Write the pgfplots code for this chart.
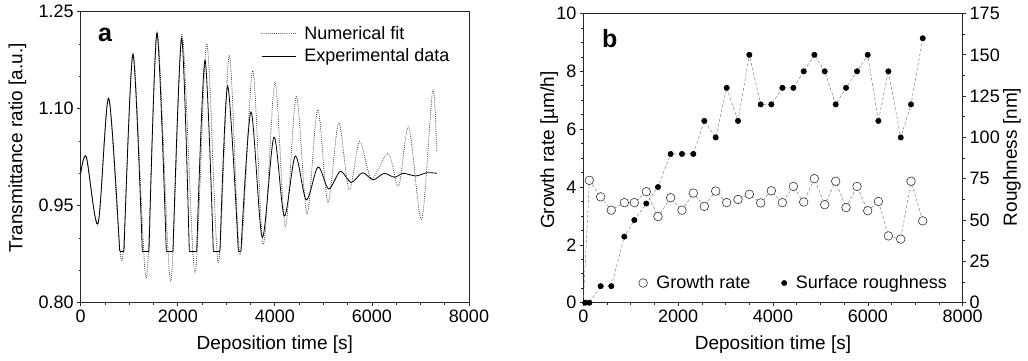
\documentclass[border=0pt]{standalone}
\usepackage{fontspec}
\setmainfont{Liberation Sans}
\usepackage{pgfplots}
\pgfplotsset{compat=1.18}
\begin{document}
\begin{tikzpicture}
\useasboundingbox (0pt,0pt) rectangle (1028pt,361pt);
\pgfplotsset{
  every axis/.append style={
    scale only axis,
    tick label style={font=\fontsize{18}{20}\selectfont},
    label style={font=\fontsize{19}{22}\selectfont},
    /pgf/number format/assume math mode=true,
    /pgf/number format/1000 sep={},
    tick align=outside,
    major tick length=3.5pt,
    minor tick length=2pt,
    axis line style={line width=0.9pt, black!85},
    every tick/.style={line width=0.7pt, black!85},
  },
  fitstyle/.style={line width=1pt, line cap=round, dash pattern=on 0pt off 2.1pt, black!85},
  expstyle/.style={line width=0.8pt, black},
}
% ---------------- panel a ----------------
\begin{axis}[
  at={(80.7pt,58.3pt)}, anchor=south west,
  width=388.3pt, height=291pt,
  xmin=0, xmax=8000, ymin=0.80, ymax=1.25,
  xtick={0,2000,...,8000}, minor x tick num=3,
  ytick={0.80,0.95,1.10,1.25}, minor y tick num=2,
  yticklabel style={/pgf/number format/.cd, fixed, fixed zerofill, precision=2},
  xtick pos=left, ytick pos=left,
  xlabel={Deposition time [s]}, ylabel={Transmittance ratio [a.u.]},
  xlabel style={at={(axis description cs:0.5,-0.145)}, anchor=center},
  ylabel style={at={(axis description cs:-0.163,0.532)}, anchor=center},
  legend style={draw=none, fill=none, at={(axis description cs:0.457,0.965)}, anchor=north west,
    font=\fontsize{18}{20}\selectfont, row sep=4pt,
    /tikz/every odd column/.append style={column sep=6pt}},
  legend cell align=left,
  legend image code/.code={\draw[#1] (0pt,0pt) -- (34pt,0pt);},
]
\addplot[fitstyle, smooth] coordinates {
(0,1.000)(118,1.026)(357,0.921)(578,1.117)(851,0.865)(1080,1.186)(1352,0.838)
(1575,1.219)(1853,0.833)(2085,1.215)(2355,0.846)(2596,1.201)(2835,0.862)
(3061,1.183)(3285,0.874)(3543,1.159)(3762,0.890)(4002,1.141)(4215,0.917)
(4441,1.119)(4662,0.937)(4882,1.099)(5094,0.955)(5315,1.078)(5530,0.974)
(5745,1.049)(5990,0.992)(6337,1.031)(6550,0.980)(6760,1.072)(7024,0.929)
(7251,1.128)(7334,1.035)};
\addlegendentry{Numerical fit}
\addlegendimage{expstyle}
\addlegendentry{Experimental data}
\addplot[expstyle, smooth, forget plot] coordinates {(0,1.000)(116,1.025)(357,0.923)(577,1.116)(803,0.880)};
\addplot[expstyle, forget plot] coordinates {(803,0.880)(892,0.880)};
\addplot[expstyle, smooth, forget plot] coordinates {(892,0.880)(1077,1.184)(1269,0.880)};
\addplot[expstyle, forget plot] coordinates {(1269,0.880)(1407,0.880)};
\addplot[expstyle, smooth, forget plot] coordinates {(1407,0.880)(1572,1.217)(1763,0.880)};
\addplot[expstyle, forget plot] coordinates {(1763,0.880)(1901,0.880)};
\addplot[expstyle, smooth, forget plot] coordinates {(1901,0.880)(2080,1.209)(2237,0.880)};
\addplot[expstyle, forget plot] coordinates {(2237,0.880)(2390,0.880)};
\addplot[expstyle, smooth, forget plot] coordinates {(2390,0.880)(2561,1.175)(2732,0.880)};
\addplot[expstyle, forget plot] coordinates {(2732,0.880)(2870,0.880)};
\addplot[expstyle, smooth, forget plot] coordinates {(2870,0.880)(3028,1.135)(3247,0.880)};
\addplot[expstyle, forget plot] coordinates {(3247,0.880)(3302,0.880)};
\addplot[expstyle, smooth, forget plot] coordinates {
(3302,0.880)(3508,1.095)(3741,0.901)(3982,1.056)(4195,0.934)(4421,1.027)
(4648,0.959)(4889,1.010)(5109,0.976)(5348,1.003)(5575,0.986)(5805,1.001)
(6025,0.990)(6250,1.000)(6465,0.994)(6646,1.000)(6905,0.996)(7135,1.001)(7340,1.000)};
\node[font=\bfseries\fontsize{25}{28}\selectfont] at (rel axis cs:0.063,0.92) {a};
\end{axis}
% ---------------- panel b ----------------
\begin{axis}[
  at={(583.3pt,58.3pt)}, anchor=south west,
  width=379.4pt, height=289.2pt,
  xmin=0, xmax=8000, ymin=0, ymax=10,
  xtick={0,2000,...,8000}, minor x tick num=3,
  ytick={0,2,...,10}, minor y tick num=3,
  axis y line*=left, xtick pos=left,
  xlabel={Deposition time [s]}, ylabel={Growth rate [µm/h]},
  xlabel style={at={(axis description cs:0.5,-0.146)}, anchor=center},
  ylabel style={at={(axis description cs:-0.09,0.528)}, anchor=center},
]
\addplot[gray, line width=0.5pt, dash pattern=on 3pt off 2pt] coordinates {(0,0)(127,4.23)};
\addplot[gray, line width=0.5pt, dash pattern=on 3pt off 2pt, mark=*, mark size=4.3pt,
  mark options={solid, fill=white, draw=black!80, line width=0.6pt}] coordinates {
(127,4.23)(366,3.66)(590,3.20)(865,3.46)(1076,3.46)(1329,3.84)(1575,2.98)
(1842,3.63)(2081,3.20)(2320,3.79)(2552,3.33)(2791,3.86)(3023,3.46)(3262,3.57)
(3501,3.75)(3740,3.45)(3965,3.87)(4197,3.46)(4429,4.02)(4647,3.48)(4872,4.29)
(5090,3.39)(5322,4.20)(5540,3.29)(5772,4.02)(5997,3.18)(6222,3.50)(6433,2.31)
(6693,2.20)(6910,4.20)(7157,2.83)};
\node[font=\bfseries\fontsize{25}{28}\selectfont] at (rel axis cs:0.07,0.912) {b};
\end{axis}
\begin{axis}[
  at={(583.3pt,58.3pt)}, anchor=south west,
  width=379.4pt, height=289.2pt,
  xmin=0, xmax=8000, ymin=0, ymax=175,
  axis x line=none, axis y line*=right,
  ytick={0,25,...,175}, minor y tick num=1,
  ylabel={Roughness [nm]},
  ylabel style={at={(axis description cs:1.13,0.504)}, anchor=center},
  legend style={draw=none, fill=none, at={(axis description cs:0.138,0.068)}, anchor=west,
    font=\fontsize{18}{20}\selectfont,
    /tikz/every odd column/.append style={column sep=7pt},
    /tikz/every even column/.append style={column sep=29pt}},
  legend columns=2,
]
\addlegendimage{only marks, mark=*, mark size=4.3pt, mark options={fill=white, draw=black!80, line width=0.6pt}}
\addlegendentry{Growth rate}
\addlegendimage{only marks, mark=*, mark size=2.7pt, mark options={fill=black, draw=black}}
\addlegendentry{Surface roughness}
\addplot[gray, line width=0.5pt, dash pattern=on 3pt off 2pt, mark=*, mark size=2.7pt,
  mark options={solid, fill=black, draw=black}, forget plot] coordinates {
(40,0)(127,0)(366,10)(590,10)(865,40)(1076,50)(1329,60)(1575,70)(1842,90)
(2081,90)(2320,90)(2552,110)(2791,100)(3023,130)(3262,110)(3501,150)(3740,120)
(3965,120)(4197,130)(4429,130)(4647,140)(4872,150)(5090,140)(5322,120)(5540,130)
(5772,140)(5997,150)(6222,110)(6433,140)(6693,100)(6910,120)(7157,160)};
\end{axis}
\end{tikzpicture}
\end{document}
